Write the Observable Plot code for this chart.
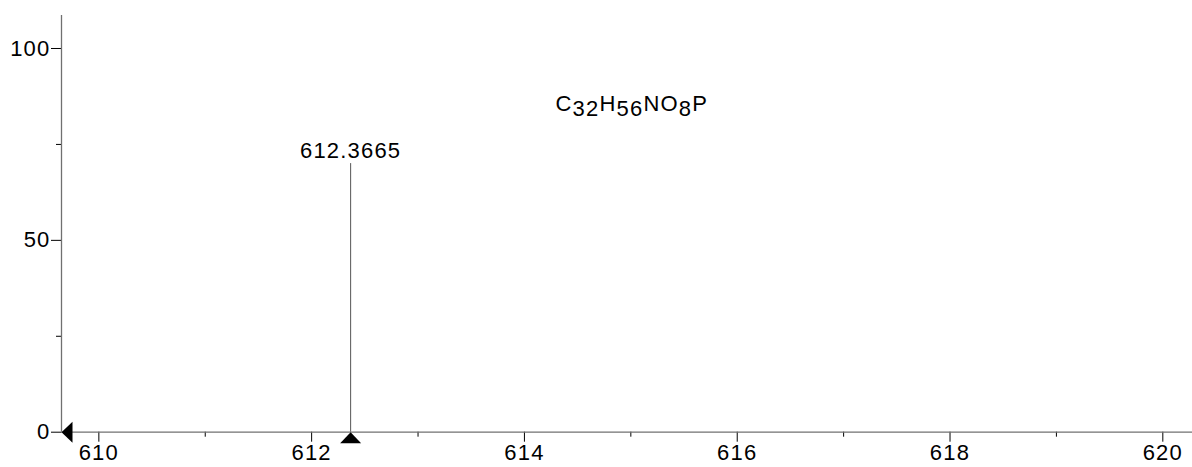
<!DOCTYPE html>
<html>
<head>
<meta charset="utf-8">
<script src="https://cdn.jsdelivr.net/npm/d3@7"></script>
<script src="https://cdn.jsdelivr.net/npm/@observablehq/plot@0.6"></script>
<style>
  html, body { margin: 0; padding: 0; background: #fff; }
  svg { font-family: "Liberation Sans", Arial, sans-serif; }
  svg text { letter-spacing: 1.2px; }
</style>
</head>
<body>
<div id="chart"></div>
<script>
// Data
const peakMz = [612.3665];
const peakIntensity = [70];
const peakLabels = ["612.3665"];
const formulaParts = [["C", false], ["32", true], ["H", false], ["56", true], ["NO", false], ["8", true], ["P", false]];
const formulaPos = [614.292, 83.66];
const xMajorTicks = [610, 612, 614, 616, 618, 620];
const xMinorTicks = [611, 613, 615, 617, 619];
const yMajorTicks = [0, 50, 100];
const yMinorTicks = [25, 75];
const xDomain = [609.649, 620.279];
const yDomain = [0, 108.6];

const peaks = peakMz.map((m, i) => ({mz: m, y: peakIntensity[i], label: peakLabels[i]}));
const formulaText = formulaParts.map(d => d[0]).join("");

const upTri = {draw(ctx) { ctx.moveTo(0, 0); ctx.lineTo(-10.5, 11); ctx.lineTo(10.5, 11); ctx.closePath(); }};
const leftTri = {draw(ctx) { ctx.moveTo(0, 0); ctx.lineTo(11, -10.5); ctx.lineTo(11, 10.5); ctx.closePath(); }};

const FS = 22;

const chart = Plot.plot({
  width: 1192,
  height: 467,
  marginLeft: 61,
  marginRight: 0,
  marginTop: 15,
  marginBottom: 35.3,
  style: {fontFamily: "Liberation Sans, Arial, sans-serif", fontSize: FS + "px", background: "#fff"},
  x: {domain: xDomain},
  y: {domain: yDomain},
  marks: [
    Plot.axisX(xMajorTicks, {tickSize: 10, tickPadding: 2, fontSize: FS, stroke: "#000", label: null, color: "#000"}),
    Plot.axisX(xMinorTicks, {tickSize: 5, tickFormat: () => "", stroke: "#000", label: null}),
    Plot.axisY(yMajorTicks, {tickSize: 10, tickPadding: 1, fontSize: FS, stroke: "#000", label: null, color: "#000"}),
    Plot.axisY(yMinorTicks, {tickSize: 5, tickFormat: () => "", stroke: "#000", label: null}),
    Plot.ruleY([0], {stroke: "#707070", strokeWidth: 1.3}),
    Plot.ruleX([xDomain[0]], {stroke: "#707070", strokeWidth: 1.3}),
    Plot.ruleX(peaks, {x: "mz", y1: 0, y2: "y", stroke: "#555", strokeWidth: 1}),
    Plot.text(peaks, {x: "mz", y: "y", text: "label", lineAnchor: "bottom", dy: -6, fontSize: FS, fill: "#000"}),
    Plot.dot(peaks, {x: "mz", y: 0, symbol: upTri, fill: "#000", stroke: null, r: 5}),
    Plot.dot([0], {x: () => xDomain[0], y: 0, symbol: leftTri, fill: "#000", stroke: null, r: 5}),
    Plot.text([formulaText], {x: () => formulaPos[0], y: () => formulaPos[1], text: d => d, textAnchor: "start", lineAnchor: "bottom", fontSize: FS, fill: "#000"})
  ]
});

// Subscripts in the formula
chart.querySelectorAll("text").forEach(t => {
  if (t.textContent === formulaText) {
    while (t.firstChild) t.removeChild(t.firstChild);
    let shifted = false;
    formulaParts.forEach(([s, sub]) => {
      const ts = document.createElementNS("http://www.w3.org/2000/svg", "tspan");
      ts.textContent = s;
      if (sub && !shifted) { ts.setAttribute("dy", "4.5"); shifted = true; }
      else if (!sub && shifted) { ts.setAttribute("dy", "-4.5"); shifted = false; }
      t.appendChild(ts);
    });
  }
});

document.getElementById("chart").appendChild(chart);
</script>
</body>
</html>
